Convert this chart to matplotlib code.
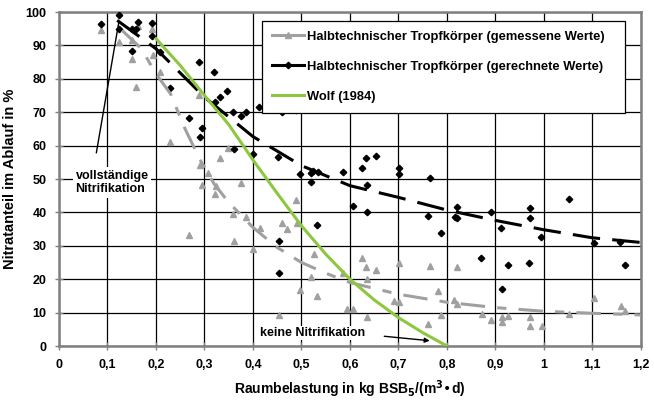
import matplotlib
matplotlib.use("Agg")
import matplotlib.pyplot as plt
from matplotlib.lines import Line2D

plt.rcParams['font.family'] = ['Liberation Sans', 'DejaVu Sans']
plt.rcParams['font.weight'] = 'bold'
plt.rcParams['mathtext.default'] = 'bf'

# gemessene Werte (graue Dreiecke)
meas_x = [0.086, 0.124, 0.163, 0.192, 0.150, 0.151, 0.194, 0.208, 0.159, 0.289,
          0.229, 0.348, 0.331, 0.291, 0.308, 0.294, 0.323, 0.322, 0.375, 0.359,
          0.385, 0.269, 0.361, 0.399, 0.489, 0.414, 0.460, 0.471, 0.490, 0.526,
          0.625, 0.632, 0.654, 0.702, 0.765, 0.520, 0.586, 0.636, 0.497, 0.533,
          0.691, 0.702, 0.782, 0.454, 0.593, 0.607, 0.636, 0.760, 0.788, 0.821,
          0.814, 0.821, 1.103, 1.158, 1.168, 0.873, 0.891, 0.913, 0.913, 0.926,
          0.971, 0.971, 0.995, 1.052]
meas_y = [94.6, 90.9, 95.8, 94.8, 91.6, 85.9, 87.1, 82.1, 77.5, 75.1,
          61.2, 59.4, 56.2, 54.2, 51.7, 48.2, 47.9, 45.4, 48.7, 39.4,
          38.7, 33.2, 31.5, 29.0, 43.7, 35.2, 36.9, 34.9, 36.7, 27.5,
          26.3, 23.7, 22.8, 24.8, 24.0, 20.7, 21.9, 20.0, 16.8, 15.0,
          13.5, 13.1, 16.5, 9.3, 11.0, 11.0, 8.8, 6.5, 9.3, 23.7,
          13.8, 12.5, 14.5, 12.0, 10.5, 9.5, 7.8, 8.8, 7.3, 9.0,
          8.8, 6.1, 6.1, 9.5]

# gerechnete Werte (schwarze Rauten)
calc_x = [0.086, 0.124, 0.124, 0.163, 0.150, 0.159, 0.192, 0.192, 0.151, 0.208,
          0.289, 0.320, 0.229, 0.347, 0.331, 0.322, 0.359, 0.375, 0.385, 0.413,
          0.269, 0.294, 0.291, 0.361, 0.399, 0.460, 0.489, 0.452, 0.497, 0.519,
          0.523, 0.535, 0.586, 0.632, 0.654, 0.625, 0.702, 0.702, 0.765, 0.519,
          0.636, 0.606, 0.636, 0.760, 0.788, 0.533, 0.454, 0.454, 0.821, 0.816,
          0.821, 0.891, 0.971, 0.971, 1.052, 0.911, 0.994, 1.103, 1.157, 0.871,
          0.925, 0.970, 1.168, 0.913]
calc_y = [96.5, 99.0, 94.8, 97.1, 94.8, 94.8, 96.6, 92.9, 88.3, 87.9,
          85.1, 81.9, 77.3, 76.4, 74.5, 73.1, 70.0, 69.0, 70.0, 71.5,
          68.2, 65.4, 62.7, 59.0, 57.5, 70.1, 70.7, 56.7, 51.5, 51.7,
          52.5, 52.2, 52.2, 56.2, 56.9, 53.4, 53.4, 51.5, 50.2, 49.0,
          48.2, 41.9, 40.0, 39.0, 33.7, 36.2, 31.5, 21.8, 41.5, 38.7,
          38.2, 40.2, 41.4, 38.2, 43.9, 35.4, 32.7, 30.7, 31.2, 26.3,
          24.3, 24.8, 24.3, 17.0]

# Ausgleichskurven
meas_fit_x = [0.13, 0.17, 0.20, 0.23, 0.26, 0.29, 0.32, 0.35, 0.40, 0.45,
              0.50, 0.55, 0.60, 0.70, 0.80, 0.90, 1.00, 1.10, 1.20]
meas_fit_y = [94.5, 89.0, 81.5, 75.5, 65.0, 56.0, 48.5, 43.0, 35.5, 29.5,
              25.0, 21.8, 19.0, 15.5, 13.1, 11.5, 10.4, 9.8, 9.3]
calc_fit_x = [0.12, 0.20, 0.30, 0.40, 0.50, 0.60, 0.70, 0.80, 0.90, 1.00, 1.10, 1.20]
calc_fit_y = [97.5, 89.0, 74.5, 62.7, 54.0, 48.0, 44.5, 40.7, 37.6, 34.8, 32.4, 31.0]
wolf_x = [0.20, 0.25, 0.30, 0.35, 0.40, 0.45, 0.50, 0.55, 0.60, 0.65, 0.70, 0.75, 0.80]
wolf_y = [92.0, 84.0, 75.0, 66.3, 55.7, 45.7, 36.0, 27.5, 20.0, 13.8, 8.5, 4.0, 0.0]

x_ticks = [0, 0.1, 0.2, 0.3, 0.4, 0.5, 0.6, 0.7, 0.8, 0.9, 1.0, 1.1, 1.2]
x_labels = ['0', '0,1', '0,2', '0,3', '0,4', '0,5', '0,6', '0,7', '0,8', '0,9', '1', '1,1', '1,2']
y_ticks = [0, 10, 20, 30, 40, 50, 60, 70, 80, 90, 100]

gray = '#a0a0a0'
green = '#8dc63f'

fig = plt.figure(figsize=(6.54, 4.03), dpi=100)
ax = fig.add_axes([0.0902, 0.1414, 0.8899, 0.8288])

ax.plot(meas_x, meas_y, linestyle='none', marker='^', markersize=4.5, color=gray, zorder=3)
ax.plot(calc_x, calc_y, linestyle='none', marker='D', markersize=3.3, color='black', zorder=3)
ax.plot(meas_fit_x, meas_fit_y, color=gray, linewidth=2.2, dashes=(8, 4, 3, 4), zorder=4)
ax.plot(calc_fit_x, calc_fit_y, color='black', linewidth=2.2, dashes=(9, 4), zorder=4)
ax.plot(wolf_x, wolf_y, color=green, linewidth=2.2, zorder=5)

ax.set_xlim(0, 1.2)
ax.set_ylim(0, 100)
ax.set_xticks(x_ticks)
ax.set_xticklabels(x_labels)
ax.set_yticks(y_ticks)
ax.grid(True, color='black', linewidth=0.9)
ax.set_axisbelow(True)
for s in ax.spines.values():
    s.set_color('#808080')
    s.set_linewidth(1.8)
ax.tick_params(direction='inout', length=6, width=1, color='#808080',
               labelsize=9, pad=6)
for lab in ax.get_xticklabels() + ax.get_yticklabels():
    lab.set_fontweight('bold')

ax.set_xlabel('Raumbelastung in kg BSB$_5$/(m$^3$\u2022d)', fontsize=10,
              fontweight='bold', labelpad=6)
ax.set_ylabel('Nitratanteil im Ablauf in %', fontsize=10.5, fontweight='bold', labelpad=6)

# Beschriftungen
ax.annotate('', xy=(0.124, 97.5), xytext=(0.076, 57),
            arrowprops=dict(arrowstyle='-', color='black', lw=1))
ax.text(0.034, 49, 'vollständige\nNitrifikation', fontsize=9, fontweight='bold',
        ha='left', va='center', linespacing=1.1,
        bbox=dict(facecolor='white', edgecolor='none', pad=2), zorder=6)
ax.text(0.415, 3.9, 'keine Nitrifikation', fontsize=9, fontweight='bold',
        ha='left', va='center',
        bbox=dict(facecolor='white', edgecolor='none', pad=1), zorder=6)
ax.annotate('', xy=(0.77, 1.5), xytext=(0.665, 3.0),
            arrowprops=dict(arrowstyle='-|>', color='black', lw=1, mutation_scale=7))

handles = [
    Line2D([], [], color=gray, linewidth=2.2, marker='^', markersize=4.5),
    Line2D([], [], color='black', linewidth=2.2, marker='D', markersize=3.3),
    Line2D([], [], color=green, linewidth=2.2),
]
labels = ['Halbtechnischer Tropfkörper (gemessene Werte)',
          'Halbtechnischer Tropfkörper (gerechnete Werte)',
          'Wolf (1984)']
leg = ax.legend(handles, labels, loc='upper left',
                bbox_to_anchor=(0.3488, 0.973, 0.6237, 0.0), mode='expand',
                prop={'size': 9.3, 'weight': 'bold'}, handlelength=2.5, handletextpad=0.2,
                labelspacing=1.4, borderpad=0.75, borderaxespad=0, fancybox=False,
                framealpha=1, edgecolor='black')
leg.get_frame().set_linewidth(0.9)
leg.set_zorder(7)

fig.savefig('out.png', dpi=100)
